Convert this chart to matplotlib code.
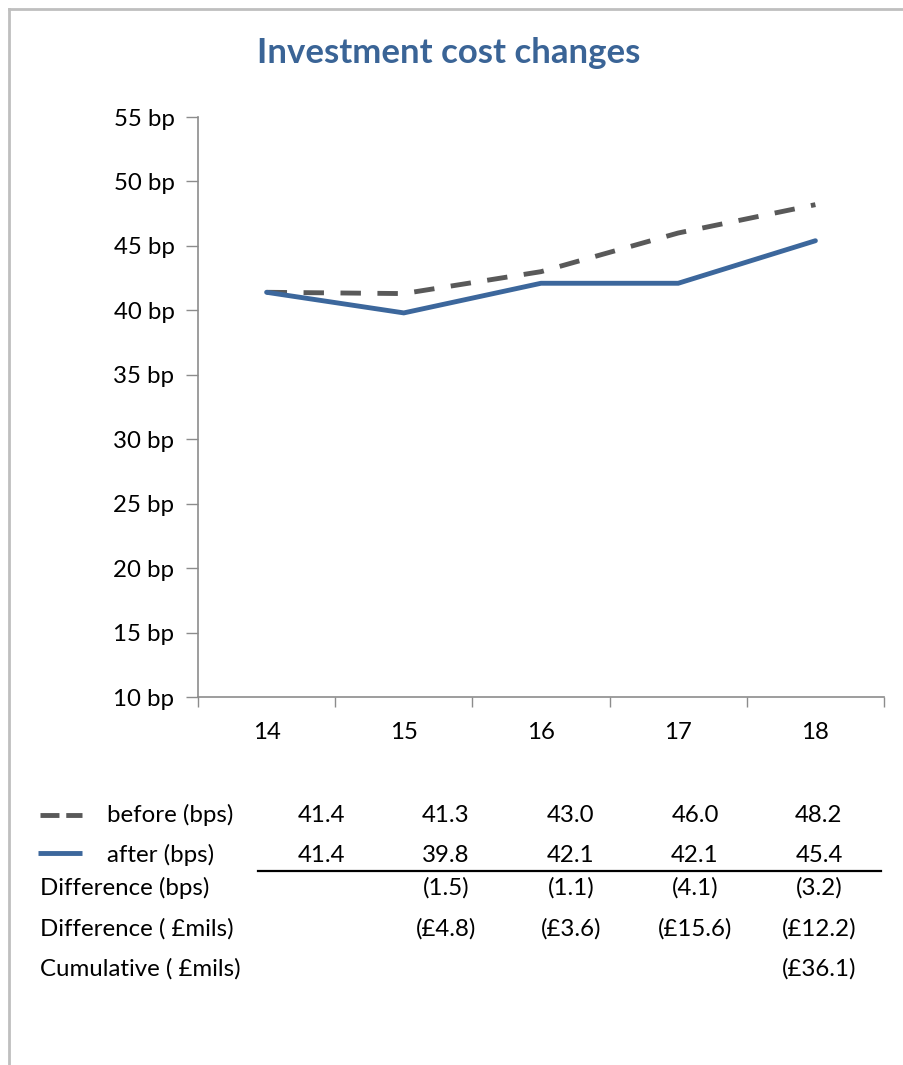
import matplotlib
matplotlib.use("Agg")
import matplotlib.pyplot as plt
from matplotlib.lines import Line2D

plt.rcParams['font.family'] = ['Lato', 'DejaVu Sans']

# ---- data ----
years = ["14", "15", "16", "17", "18"]
before = [41.4, 41.3, 43.0, 46.0, 48.2]
after = [41.4, 39.8, 42.1, 42.1, 45.4]
diff_bps = [None, -1.5, -1.1, -4.1, -3.2]
diff_mils = [None, -4.8, -3.6, -15.6, -12.2]
cumulative = [None, None, None, None, -36.1]
yticks = [10, 15, 20, 25, 30, 35, 40, 45, 50, 55]

W, H = 904, 1065
fig = plt.figure(figsize=(W / 100, H / 100), dpi=100)

def fx(px):
    return px / W

def fy(py):
    return 1 - py / H

GREY = "#595959"
BLUE = "#3C679C"
TITLE = "#3A6496"
AXC = "#8C8C8C"
FS = 17.3
LW = 3.5

ax = fig.add_axes([fx(198), fy(697), fx(884) - fx(198), fy(117) - fy(697)])
x = list(range(len(years)))
ax.plot(x, before, color=GREY, lw=LW, dashes=(4.2, 3.4), dash_capstyle='butt')
ax.plot(x, after, color=BLUE, lw=LW, solid_capstyle='round', solid_joinstyle='miter')

ax.set_xlim(-0.5, len(years) - 0.5)
ax.set_ylim(10, 55)
ax.set_yticks(yticks)
ax.set_yticklabels([f"{v} bp" for v in yticks])
ax.set_xticks(x)
ax.set_xticklabels(years)
ax.set_xticks([i - 0.5 for i in range(len(years) + 1)], minor=True)
ax.tick_params(axis='x', which='major', length=0, pad=18, labelsize=FS, colors='black')
ax.tick_params(axis='x', which='minor', length=7, width=1, color=AXC, direction='out')
ax.tick_params(axis='y', which='major', length=9, width=1, color=AXC, pad=8,
               labelsize=FS, labelcolor='black')
for s in ['top', 'right']:
    ax.spines[s].set_visible(False)
for s in ['left', 'bottom']:
    ax.spines[s].set_color(AXC)
    ax.spines[s].set_linewidth(1.2)

fig.text(fx(449), fy(53), "Investment cost changes", ha='center', va='center',
         fontsize=25, fontweight='bold', color=TITLE)

# outer border (top and left)
fig.add_artist(Line2D([fx(9), fx(9)], [fy(9), 0], transform=fig.transFigure,
                      color="#BFBFBF", lw=2))
fig.add_artist(Line2D([fx(9), 1], [fy(9), fy(9)], transform=fig.transFigure,
                      color="#BFBFBF", lw=2))

# ---- table ----
col_x = [321, 446, 571, 695, 819]
row_y = [815, 855, 888, 929, 969]

def fmt_bps(v):
    return "" if v is None else f"({abs(v):.1f})"

def fmt_mils(v):
    return "" if v is None else f"(£{abs(v):.1f})"

rows = [
    ("before (bps)", [f"{v:.1f}" for v in before], 107),
    ("after (bps)", [f"{v:.1f}" for v in after], 107),
    ("Difference (bps)", [fmt_bps(v) for v in diff_bps], 40),
    ("Difference ( £mils)", [fmt_mils(v) for v in diff_mils], 40),
    ("Cumulative ( £mils)", [fmt_mils(v) for v in cumulative], 40),
]
for (label, vals, lx), ry in zip(rows, row_y):
    fig.text(fx(lx), fy(ry), label, ha='left', va='center', fontsize=FS)
    for cx, v in zip(col_x, vals):
        if v:
            fig.text(fx(cx), fy(ry), v, ha='center', va='center', fontsize=FS)

# legend keys
fig.add_artist(Line2D([fx(40), fx(82)], [fy(815), fy(815)], transform=fig.transFigure,
                      color=GREY, lw=LW, dashes=(3.9, 1.4), dash_capstyle='butt'))
fig.add_artist(Line2D([fx(38), fx(82)], [fy(853), fy(853)], transform=fig.transFigure,
                      color=BLUE, lw=LW, solid_capstyle='butt'))
# underline
fig.add_artist(Line2D([fx(258), fx(881)], [fy(871), fy(871)], transform=fig.transFigure,
                      color='black', lw=1.6))

fig.savefig("out.png", dpi=100)
